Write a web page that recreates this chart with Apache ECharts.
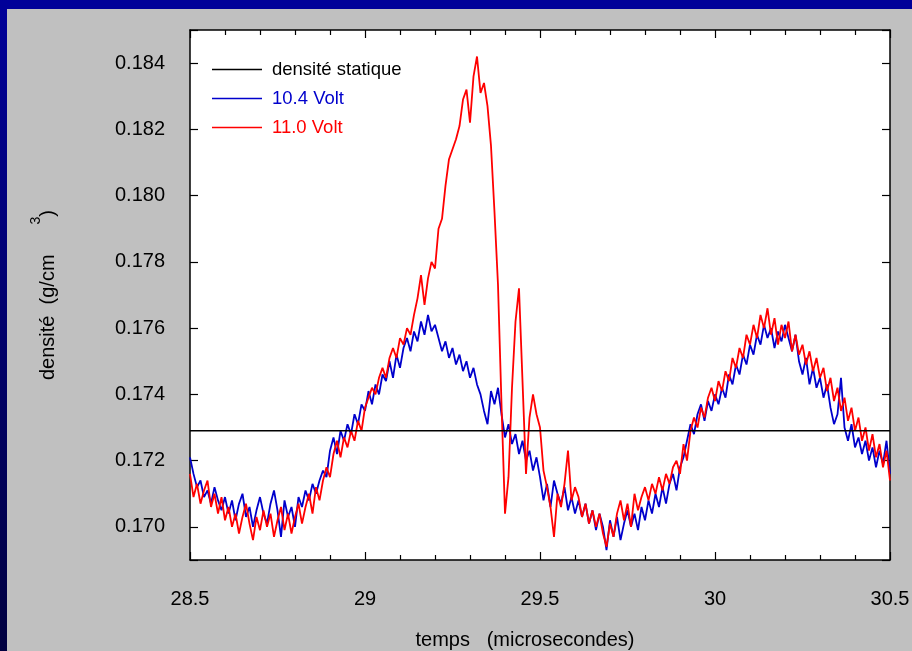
<!DOCTYPE html>
<html>
<head>
<meta charset="utf-8">
<title>densité</title>
<script src="https://cdn.jsdelivr.net/npm/echarts@6/dist/echarts.min.js"></script>
<style>
  html, body { margin: 0; padding: 0; background: #c0c0c0; }
  #chart { width: 912px; height: 651px; }
</style>
</head>
<body>
<div id="chart"></div>
<script>
// temps : échantillons de 28.5 à 30.5 µs, pas de 0.01 µs
const tStart = 28.5
const tStep = 0.01

// densité statique (g/cm3)
const staticDensity = 0.1729

// 10.4 Volt
const volt104 = [
  0.1721, 0.1716, 0.1712, 0.1714, 0.1709, 0.1711, 0.1707, 0.1712, 0.1708, 0.1705, 0.1709,
  0.1704, 0.1708, 0.1702, 0.1707, 0.1710, 0.1703, 0.1706, 0.1700, 0.1705, 0.1709,
  0.1704, 0.1701, 0.1707, 0.1711, 0.1705, 0.1697, 0.1708, 0.1703, 0.1706, 0.1700,
  0.1709, 0.1706, 0.1711, 0.1708, 0.1713, 0.1710, 0.1714, 0.1717, 0.1715, 0.1723,
  0.1727, 0.1722, 0.1729, 0.1726, 0.1731, 0.1728, 0.1734, 0.1731, 0.1737, 0.1735,
  0.1741, 0.1737, 0.1743, 0.1740, 0.1746, 0.1744, 0.1750, 0.1745, 0.1752, 0.1748,
  0.1754, 0.1757, 0.1753, 0.1759, 0.1756, 0.1762, 0.1758, 0.1764, 0.1759, 0.1761,
  0.1757, 0.1753, 0.1756, 0.1751, 0.1754, 0.1749, 0.1752, 0.1747, 0.1750, 0.1745,
  0.1748, 0.1743, 0.1740, 0.1735, 0.1731, 0.1741, 0.1737, 0.1742, 0.1734, 0.1727,
  0.1731, 0.1725, 0.1728, 0.1722, 0.1726, 0.1720, 0.1723, 0.1717, 0.1721, 0.1715,
  0.1708, 0.1713, 0.1706, 0.1714, 0.1710, 0.1707, 0.1712, 0.1705, 0.1709, 0.1704,
  0.1708, 0.1703, 0.1707, 0.1701, 0.1705, 0.1699, 0.1704, 0.1700, 0.1693, 0.1702,
  0.1697, 0.1703, 0.1696, 0.1701, 0.1705, 0.1700, 0.1704, 0.1699, 0.1706, 0.1702,
  0.1708, 0.1704, 0.1710, 0.1706, 0.1712, 0.1707, 0.1713, 0.1716, 0.1711, 0.1718,
  0.1721, 0.1726, 0.1731, 0.1728, 0.1734, 0.1737, 0.1732, 0.1738, 0.1735, 0.1740,
  0.1737, 0.1742, 0.1739, 0.1746, 0.1743, 0.1749, 0.1746, 0.1752, 0.1749, 0.1755,
  0.1752, 0.1758, 0.1755, 0.1761, 0.1757, 0.1760, 0.1754, 0.1759, 0.1756, 0.1761,
  0.1757, 0.1753, 0.1758, 0.1750, 0.1746, 0.1751, 0.1743, 0.1748, 0.1742, 0.1745,
  0.1739, 0.1743, 0.1736, 0.1731, 0.1734, 0.1745, 0.1730, 0.1726, 0.1731, 0.1724,
  0.1727, 0.1722, 0.1726, 0.1720, 0.1724, 0.1718, 0.1723, 0.1719, 0.1726, 0.1716
]

// 11.0 Volt
const volt110 = [
  0.1716, 0.1709, 0.1713, 0.1707, 0.1711, 0.1714, 0.1706, 0.1710, 0.1704, 0.1709, 0.1702,
  0.1706, 0.1700, 0.1704, 0.1698, 0.1703, 0.1707, 0.1701, 0.1696, 0.1703, 0.1699,
  0.1705, 0.1700, 0.1704, 0.1697, 0.1702, 0.1706, 0.1699, 0.1704, 0.1698, 0.1703,
  0.1707, 0.1701, 0.1706, 0.1710, 0.1704, 0.1712, 0.1708, 0.1714, 0.1718, 0.1715,
  0.1722, 0.1726, 0.1721, 0.1727, 0.1724, 0.1729, 0.1726, 0.1732, 0.1729, 0.1736,
  0.1739, 0.1742, 0.1740, 0.1745, 0.1748, 0.1745, 0.1751, 0.1754, 0.1751, 0.1757,
  0.1755, 0.1760, 0.1758, 0.1764, 0.1769, 0.1776, 0.1767, 0.1775, 0.1780, 0.1778,
  0.1790, 0.1793, 0.1803, 0.1811, 0.1814, 0.1817, 0.1821, 0.1829, 0.1832, 0.1822,
  0.1836, 0.1842, 0.1831, 0.1834, 0.1827, 0.1815, 0.1795, 0.1773, 0.1737, 0.1704,
  0.1715, 0.1742, 0.1762, 0.1772, 0.1744, 0.1716, 0.1733, 0.1740, 0.1734, 0.1730,
  0.1717, 0.1712, 0.1706, 0.1697, 0.1710, 0.1706, 0.1713, 0.1723, 0.1708, 0.1712,
  0.1709, 0.1703, 0.1707, 0.1701, 0.1705, 0.1700, 0.1704, 0.1698, 0.1694, 0.1701,
  0.1697, 0.1704, 0.1708, 0.1702, 0.1707, 0.1700, 0.1710, 0.1705, 0.1709, 0.1712,
  0.1708, 0.1713, 0.1710, 0.1715, 0.1711, 0.1716, 0.1713, 0.1718, 0.1720, 0.1716,
  0.1725, 0.1720, 0.1729, 0.1733, 0.1730, 0.1736, 0.1733, 0.1739, 0.1742, 0.1738,
  0.1744, 0.1741, 0.1747, 0.1744, 0.1751, 0.1748, 0.1754, 0.1751, 0.1758, 0.1755,
  0.1761, 0.1757, 0.1764, 0.1760, 0.1766, 0.1758, 0.1763, 0.1755, 0.1761, 0.1757,
  0.1762, 0.1753, 0.1758, 0.1752, 0.1755, 0.1749, 0.1753, 0.1747, 0.1751, 0.1745,
  0.1748, 0.1741, 0.1745, 0.1738, 0.1742, 0.1735, 0.1739, 0.1732, 0.1736, 0.1729,
  0.1733, 0.1726, 0.1730, 0.1723, 0.1728, 0.1721, 0.1725, 0.1718, 0.1723, 0.1714
]

const seriesNames = ['densité statique', '10.4 Volt', '11.0 Volt']
const seriesColors = ['#000000', '#0000cc', '#ff0000']

const FONT = '"Liberation Sans", Arial, sans-serif'

// couples [temps, valeur]
function toPoints(values) {
  return values.map((v, i) => [+(tStart + i * tStep).toFixed(2), v])
}

const chart = echarts.init(document.getElementById('chart'))

const tickStyle = { color: '#000', width: 1.2 }

const option = {
  animation: false,
  backgroundColor: '#c0c0c0',
  textStyle: { fontFamily: FONT },
  // bandeau bleu du cadre
  graphic: [
    { type: 'rect', shape: { x: 0, y: 0, width: 912, height: 9 }, style: { fill: '#000099' }, silent: true },
    {
      type: 'rect',
      shape: { x: 0, y: 0, width: 7, height: 651 },
      style: {
        fill: new echarts.graphic.LinearGradient(0, 0, 0, 1, [
          { offset: 0, color: '#000099' },
          { offset: 1, color: '#000040' }
        ])
      },
      silent: true
    }
  ],
  grid: {
    left: 190,
    top: 30,
    width: 700,
    height: 530,
    outerBoundsMode: 'none',
    containLabel: false,
    show: true,
    backgroundColor: '#ffffff',
    borderWidth: 0
  },
  legend: {
    orient: 'vertical',
    left: 212,
    top: 60,
    padding: 0,
    icon: 'rect',
    itemWidth: 50,
    itemHeight: 1.5,
    itemGap: 10,
    itemTextGap: 10,
    data: seriesNames.map((n, i) => ({
      name: n,
      textStyle: { color: seriesColors[i] }
    })),
    textStyle: { fontSize: 18.5, fontFamily: FONT, lineHeight: 19, padding: [0, 0, 0, 5] }
  },
  xAxis: [
    {
      type: 'value',
      min: 28.5,
      max: 30.5,
      interval: 0.5,
      position: 'bottom',
      name: 'temps   (microsecondes)',
      nameLocation: 'middle',
      nameGap: 70,
      nameTextStyle: { color: '#000', fontSize: 20, fontFamily: FONT, padding: [0, 30, 0, 0] },
      axisLine: { show: true, onZero: false, lineStyle: { color: '#000', width: 1.5 } },
      axisTick: { show: true, inside: true, length: 8, lineStyle: tickStyle },
      minorTick: { show: true, splitNumber: 5, length: 5, lineStyle: tickStyle },
      axisLabel: { color: '#000', fontSize: 20, margin: 29, fontFamily: FONT },
      splitLine: { show: false }
    },
    {
      type: 'value',
      min: 28.5,
      max: 30.5,
      interval: 0.5,
      position: 'top',
      axisLine: { show: true, onZero: false, lineStyle: { color: '#000', width: 1.5 } },
      axisTick: { show: true, inside: true, length: 8, lineStyle: tickStyle },
      minorTick: { show: true, splitNumber: 5, length: 5, lineStyle: tickStyle },
      axisLabel: { show: false },
      splitLine: { show: false }
    }
  ],
  yAxis: [
    {
      type: 'value',
      min: 0.169,
      max: 0.185,
      splitNumber: 8,
      position: 'left',
      name: '{a|densité  (g/cm}{s|3}{a|)}',
      nameLocation: 'middle',
      nameGap: 132,
      nameTextStyle: {
        color: '#000',
        rich: {
          a: { fontSize: 20, fontFamily: FONT, color: '#000', lineHeight: 29, verticalAlign: 'bottom' },
          s: { fontSize: 14, fontFamily: FONT, color: '#000', lineHeight: 29, verticalAlign: 'top', padding: [0, 0, 0, 30] }
        }
      },
      axisLine: { show: true, onZero: false, lineStyle: { color: '#000', width: 1.5 } },
      axisTick: { show: true, inside: true, length: 8, lineStyle: tickStyle },
      axisLabel: {
        color: '#000',
        fontSize: 20,
        margin: 25,
        fontFamily: FONT,
        formatter: v => (Math.round(v * 1000) % 2 === 0 ? v.toFixed(3) : '')
      },
      splitLine: { show: false }
    },
    {
      type: 'value',
      min: 0.169,
      max: 0.185,
      splitNumber: 8,
      position: 'right',
      axisLine: { show: true, onZero: false, lineStyle: { color: '#000', width: 1.5 } },
      axisTick: { show: true, inside: true, length: 8, lineStyle: tickStyle },
      axisLabel: { show: false },
      splitLine: { show: false }
    }
  ],
  series: [
    {
      name: seriesNames[1],
      type: 'line',
      data: toPoints(volt104),
      showSymbol: false,
      color: seriesColors[1],
      lineStyle: { width: 1.8, color: seriesColors[1] },
      z: 2
    },
    {
      name: seriesNames[2],
      type: 'line',
      data: toPoints(volt110),
      showSymbol: false,
      color: seriesColors[2],
      lineStyle: { width: 1.8, color: seriesColors[2] },
      z: 3
    },
    {
      name: seriesNames[0],
      type: 'line',
      data: [[28.5, staticDensity], [30.5, staticDensity]],
      showSymbol: false,
      color: seriesColors[0],
      lineStyle: { width: 1.5, color: seriesColors[0] },
      z: 4
    }
  ]
}

chart.setOption(option)
</script>
</body>
</html>
